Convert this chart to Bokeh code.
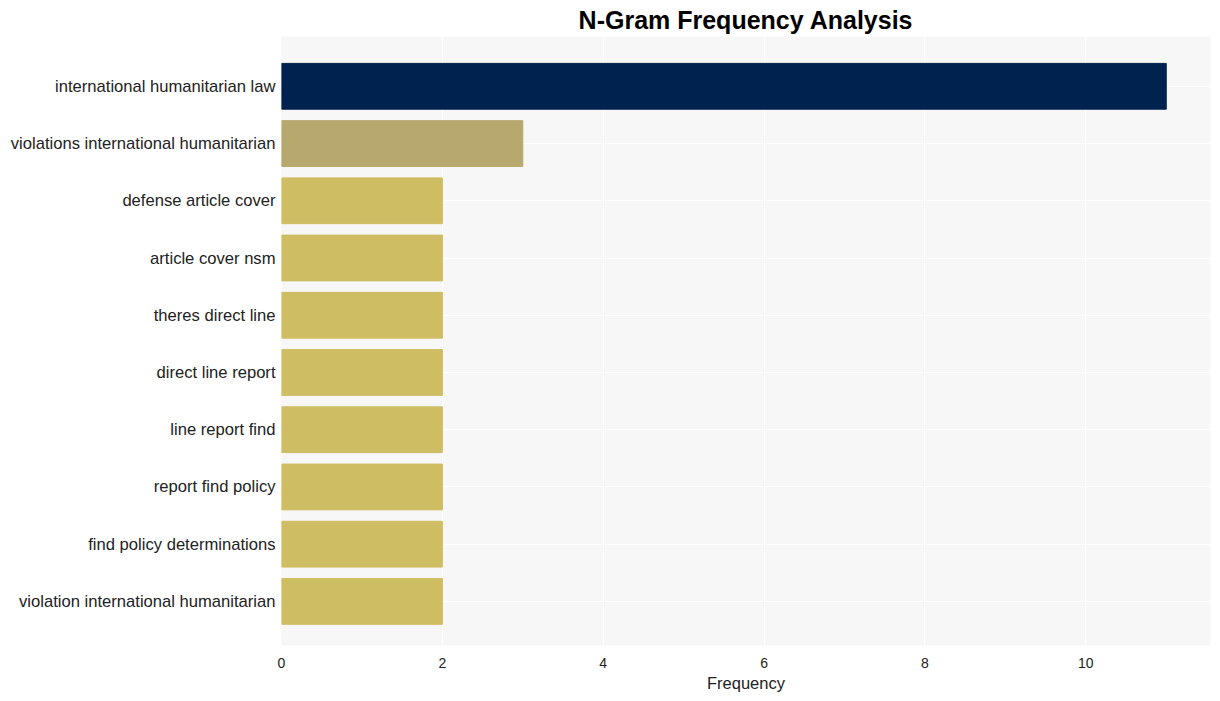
from bokeh.plotting import figure
from bokeh.models import Range1d, FixedTicker, ColumnDataSource
from bokeh.embed import file_html
from bokeh.resources import INLINE

ngrams = [
    "international humanitarian law",
    "violations international humanitarian",
    "defense article cover",
    "article cover nsm",
    "theres direct line",
    "direct line report",
    "line report find",
    "report find policy",
    "find policy determinations",
    "violation international humanitarian",
]
counts = [11, 3, 2, 2, 2, 2, 2, 2, 2, 2]
colors = ["#00224e", "#b7a86e", "#cfbd63", "#cfbd63", "#cfbd63",
          "#cfbd63", "#cfbd63", "#cfbd63", "#cfbd63", "#cfbd63"]
x_ticks = [0, 2, 4, 6, 8, 10]

n = len(ngrams)
ypos = [n - 1 - i for i in range(n)]
src = ColumnDataSource(dict(y=ypos, right=counts, color=colors))

p = figure(width=1220, height=701, output_backend="svg", toolbar_location=None,
           x_range=Range1d(0, max(counts) * 1.05), y_range=Range1d(-0.77, n - 1 + 0.87),
           min_border_left=281, min_border_right=10, min_border_top=0, min_border_bottom=56,
           title="N-Gram Frequency Analysis")
p.hbar(y="y", right="right", left=0, height=0.8, color="color", source=src)

p.background_fill_color = "#f7f7f7"
p.border_fill_color = "white"
p.outline_line_color = None

p.title.align = "center"
p.title.text_font = "Liberation Sans"
p.title.text_font_size = "25px"
p.title.text_font_style = "bold"
p.title.text_color = "#000000"
p.title.standoff = 6

p.xaxis.ticker = FixedTicker(ticks=x_ticks)
p.yaxis.ticker = FixedTicker(ticks=ypos)
p.yaxis.major_label_overrides = {y: s for y, s in zip(ypos, ngrams)}

for ax in (p.xaxis[0], p.yaxis[0]):
    ax.axis_line_color = None
    ax.major_tick_line_color = None
    ax.minor_tick_line_color = None
    ax.major_label_text_font = "Liberation Sans"
    ax.major_label_text_color = "#222222"

p.yaxis.major_label_text_font_size = "16.6px"
p.yaxis.major_label_standoff = 0
p.xaxis.major_label_text_font_size = "14px"
p.xaxis.major_label_standoff = 6
p.xaxis.axis_label = "Frequency"
p.xaxis.axis_label_text_font = "Liberation Sans"
p.xaxis.axis_label_text_font_size = "16.5px"
p.xaxis.axis_label_text_font_style = "normal"
p.xaxis.axis_label_text_color = "#222222"
p.xaxis.axis_label_standoff = 3

p.xgrid.grid_line_color = "white"
p.xgrid.grid_line_width = 1
p.ygrid.grid_line_color = "white"
p.ygrid.grid_line_width = 1

open("out.html", "w").write(file_html(p, INLINE))
